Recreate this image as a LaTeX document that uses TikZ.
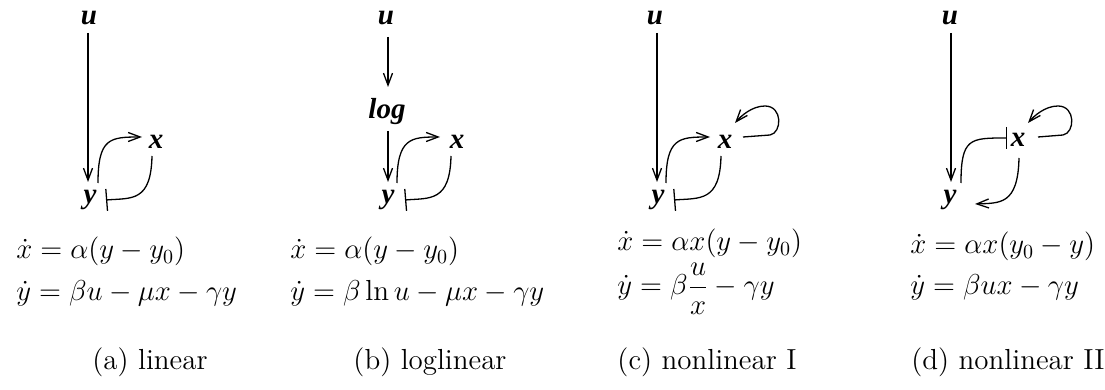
\documentclass[tikz,border=0pt]{standalone}
\usepackage{fontspec}
\newfontfamily\lblfont{Liberation Serif}
\usetikzlibrary{arrows.meta,calc}
\begin{document}
\begin{tikzpicture}[x=0.5pt,y=-0.5pt,
  lbl/.style={inner sep=0pt,font=\fontsize{14.5}{16}\lblfont\bfseries\itshape},
  eqtxt/.style={inner sep=0pt,anchor=base west,font=\fontsize{14.5}{17}\selectfont},
  captxt/.style={inner sep=0pt,anchor=base,font=\fontsize{14.5}{17}\selectfont},
  edgeline/.style={line width=0.65pt},
  act/.style={edgeline,-{Straight Barb[length=6pt,width=4.5pt]}},
  inh/.style={edgeline,-{Bar[width=11pt,line width=0.65pt]}}]
\useasboundingbox (0,0) rectangle (1105,390);
% ---------- panel (a)
\node[lbl] (ua) at (89,18) {u};
\node[lbl] (ya) at (90,200) {y};
\node[lbl] (xa) at (156,142) {x};
\draw[act] ($(ua)+(-1,15)$) -- ($(ya)+(-2,-18)$);
\draw[act] ($(ya)+(8,-17)$) .. controls ($(ya)+(8,-62)$) and ($(xa)+(-46,-5)$) .. ($(xa)+(-14,-5)$);
\draw[inh] ($(xa)+(-4,14)$) .. controls ($(xa)+(-5,60)$) and ($(ya)+(42,-2)$) .. ($(ya)+(16,0)$);
% ---------- panel (b)
\node[lbl] (ub) at (386,18) {u};
\node[lbl] (lgb) at (387,112) {log};
\node[lbl] (yb) at (388,200) {y};
\node[lbl] (xb) at (457,142) {x};
\draw[act] ($(ub)+(2,19)$) -- ($(lgb)+(1,-25)$);
\draw[act] ($(lgb)+(1,19)$) -- ($(yb)+(0,-18)$);
\draw[act] ($(yb)+(9,-17)$) .. controls ($(yb)+(9,-62)$) and ($(xb)+(-46,-5)$) .. ($(xb)+(-17,-5)$);
\draw[inh] ($(xb)+(-6,14)$) .. controls ($(xb)+(-7,60)$) and ($(yb)+(42,-2)$) .. ($(yb)+(17,0)$);
% ---------- panel (c)
\node[lbl] (uc) at (655,18) {u};
\node[lbl] (yc) at (658,200) {y};
\node[lbl] (xc) at (725,142) {x};
\draw[act] ($(uc)+(2,15)$) -- ($(yc)+(-1,-18)$);
\draw[act] ($(yc)+(8,-17)$) .. controls ($(yc)+(8,-62)$) and ($(xc)+(-46,-5)$) .. ($(xc)+(-15,-5)$);
\draw[inh] ($(xc)+(-4,14)$) .. controls ($(xc)+(-5,60)$) and ($(yc)+(42,-2)$) .. ($(yc)+(16,0)$);
\draw[act] ($(xc)+(18,-5)$) -- ($(xc)+(45,-7)$) .. controls ($(xc)+(57,-9)$) and ($(xc)+(58,-36)$) .. ($(xc)+(40,-36)$) .. controls ($(xc)+(27,-36)$) and ($(xc)+(16,-26)$) .. ($(xc)+(10,-19)$);
% ---------- panel (d)
\node[lbl] (ud) at (950,18) {u};
\node[lbl] (yd) at (950,200) {y};
\node[lbl] (xd) at (1018,140) {x};
\draw[act] ($(ud)+(1,15)$) -- ($(yd)+(1,-18)$);
\draw[inh] ($(yd)+(11,-17)$) .. controls ($(yd)+(11,-62)$) and ($(xd)+(-48,-2)$) .. ($(xd)+(-11,-2)$);
\draw[act] ($(xd)+(1,18)$) .. controls ($(xd)+(0,65)$) and ($(yd)+(50,3)$) .. ($(yd)+(25,4)$);
\draw[act] ($(xd)+(20,-3)$) -- ($(xd)+(45,-5)$) .. controls ($(xd)+(57,-7)$) and ($(xd)+(58,-34)$) .. ($(xd)+(40,-34)$) .. controls ($(xd)+(27,-34)$) and ($(xd)+(16,-24)$) .. ($(xd)+(10,-17)$);
% ---------- equations
\node[eqtxt] (ea1) at (16,259) {$\dot x = \alpha(y-y_0)$};
\node[eqtxt] (ea2) at (16,300) {$\dot y = \beta u-\mu x-\gamma y$};
\node[eqtxt] (eb1) at (290,259) {$\dot x = \alpha(y-y_0)$};
\node[eqtxt] (eb2) at (290,300) {$\dot y = \beta\ln u-\mu x-\gamma y$};
\node[eqtxt] (ec1) at (617,251) {$\dot x = \alpha x(y-y_0)$};
\node[eqtxt] (ec2) at (617,295) {$\dot y = \beta\displaystyle\frac{u}{x}-\gamma y$};
\node[eqtxt] (ed1) at (910,254) {$\dot x = \alpha x(y_0-y)$};
\node[eqtxt] (ed2) at (910,294) {$\dot y = \beta u x-\gamma y$};
% ---------- captions
\node[captxt] (ca) at (150,370) {(a) linear};
\node[captxt] (cb) at (430,370) {(b) loglinear};
\node[captxt] (cc) at (707,370) {(c) nonlinear I};
\node[captxt] (cd) at (1008,370) {(d) nonlinear II};
\end{tikzpicture}
\end{document}
